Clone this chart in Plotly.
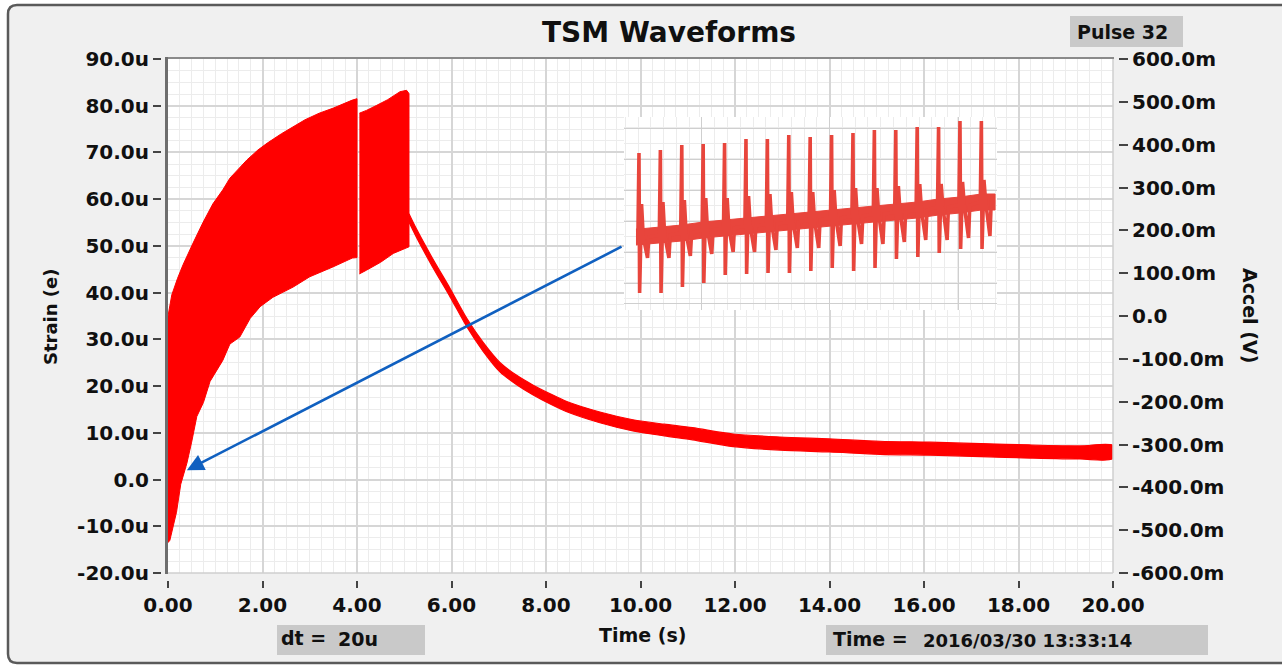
import plotly.graph_objects as go

# ---------------- strain record (time in s, strain in microstrain) ----------------
# first loading block: upper / lower envelope of the fast oscillation
blk1_top_t = [0.0, 0.08, 0.2, 0.32, 0.53, 0.74, 0.95, 1.16, 1.31, 1.5, 1.67, 1.9,
              2.1, 2.4, 2.65, 2.9, 3.2, 3.5, 3.9, 4.0]
blk1_top = [35.0, 39.5, 43.0, 46.0, 50.6, 55.0, 59.0, 62.0, 64.5, 66.5, 68.4, 70.5,
            72.0, 74.0, 75.5, 77.0, 78.4, 79.5, 81.2, 81.5]
blk1_bot_t = [0.0, 0.04, 0.18, 0.27, 0.4, 0.5, 0.61, 0.75, 0.89, 1.0, 1.16, 1.31,
              1.52, 1.74, 1.95, 2.22, 2.65, 3.0, 3.49, 3.9, 4.0]
blk1_bot = [-13.5, -13.0, -7.0, -1.0, 3.5, 8.0, 13.5, 16.5, 21.0, 23.0, 25.5, 29.0,
            30.5, 34.5, 37.0, 39.0, 41.2, 43.4, 45.5, 47.4, 47.5]

# second loading block
blk2_top_t = [4.05, 4.2, 4.42, 4.65, 4.91, 5.05, 5.1]
blk2_top = [78.4, 79.0, 80.1, 81.3, 83.0, 83.3, 82.6]
blk2_bot_t = [4.05, 4.2, 4.5, 4.77, 5.1]
blk2_bot = [44.0, 44.8, 46.5, 48.4, 49.8]

# relaxation after the load is removed: trace centre and half thickness
decay_t = [5.1, 5.26, 5.6, 5.97, 6.33, 6.67, 7.03, 7.38, 7.72, 8.1, 8.44, 9.14,
           9.84, 10.5, 11.1, 11.96, 12.95, 14.0, 15.07, 16.13, 17.2, 18.24, 19.3, 20.0]
decay_mid = [56.0, 52.7, 46.4, 40.0, 33.5, 28.4, 24.0, 21.3, 19.2, 17.2, 15.6, 13.3,
             11.6, 10.6, 9.8, 8.4, 7.7, 7.3, 6.8, 6.6, 6.3, 6.0, 5.8, 5.9]
decay_half = [0.9, 0.9, 0.9, 0.9, 0.9, 0.95, 1.0, 1.0, 1.05, 1.1, 1.1, 1.15,
              1.2, 1.25, 1.3, 1.35, 1.4, 1.4, 1.4, 1.4, 1.4, 1.4, 1.4, 1.4]

# ---------------- accelerometer detail (pulse-by-pulse, arbitrary units) ----------------
pulse_idx = list(range(17))
pulse_peak = [157, 160, 165, 166, 167, 171, 171, 175, 173, 175, 177, 180, 180, 183, 183, 189, 189]
pulse_trough = [17, 17, 23, 27, 35, 36, 37, 37, 39, 42, 39, 42, 51, 53, 57, 61, 61]
pulse_base = [73, 75, 77, 80, 82, 84, 86, 88, 90, 92, 94, 96, 98, 100, 103, 105, 108]
ring_hi = [106, 108, 110, 112, 112, 114, 116, 118, 118, 120, 122, 122, 124, 126, 126, 128, 130]
ring_lo = [52, 52, 54, 56, 58, 58, 60, 62, 62, 64, 66, 66, 68, 70, 70, 72, 74]

# ---------------- axis ticks ----------------
time_ticks = [0, 2, 4, 6, 8, 10, 12, 14, 16, 18, 20]
strain_ticks = [-20, -10, 0, 10, 20, 30, 40, 50, 60, 70, 80, 90]
accel_ticks = [-600, -500, -400, -300, -200, -100, 0, 100, 200, 300, 400, 500, 600]

time_text = [f"{v:.2f}" for v in time_ticks]
strain_text = ["0.0" if v == 0 else f"{v:.1f}u" for v in strain_ticks]
accel_text = ["0.0" if v == 0 else f"{v:.1f}m" for v in accel_ticks]

# ---------------- page geometry helpers ----------------
PAGE_W, PAGE_H = 1282, 666
PL, PR, PT, PB = 161, 1118, 59, 580      # paper box (tick baselines) in page pixels


def xp(px):
    return (px - PL) / (PR - PL)


def yp(py):
    return (PB - py) / (PB - PT)


def rounded_path(x0, y0, x1, y1, r):
    return (f"M{xp(x0 + r)},{yp(y0)} L{xp(x1 - r)},{yp(y0)} "
            f"Q{xp(x1)},{yp(y0)} {xp(x1)},{yp(y0 + r)} L{xp(x1)},{yp(y1 - r)} "
            f"Q{xp(x1)},{yp(y1)} {xp(x1 - r)},{yp(y1)} L{xp(x0 + r)},{yp(y1)} "
            f"Q{xp(x0)},{yp(y1)} {xp(x0)},{yp(y1 - r)} L{xp(x0)},{yp(y0 + r)} "
            f"Q{xp(x0)},{yp(y0)} {xp(x0 + r)},{yp(y0)} Z")


FONT = "DejaVu Sans"
INK = "#101010"
RED = "#ff0000"
INSET_RED = "#e8453c"

fig = go.Figure()

# strain blocks as filled envelopes
fig.add_trace(go.Scatter(
    x=blk1_top_t + blk1_bot_t[::-1], y=blk1_top + blk1_bot[::-1],
    mode="lines", fill="toself", fillcolor=RED, line=dict(color=RED, width=1),
    hoverinfo="skip", showlegend=False))
fig.add_trace(go.Scatter(
    x=blk2_top_t + blk2_bot_t[::-1], y=blk2_top + blk2_bot[::-1],
    mode="lines", fill="toself", fillcolor=RED, line=dict(color=RED, width=1),
    hoverinfo="skip", showlegend=False))
decay_hi = [m + h for m, h in zip(decay_mid, decay_half)]
decay_lo = [m - h for m, h in zip(decay_mid, decay_half)]
fig.add_trace(go.Scatter(
    x=decay_t + decay_t[::-1], y=decay_hi + decay_lo[::-1],
    mode="lines", fill="toself", fillcolor=RED,
    line=dict(color=RED, width=1.2, shape="spline", smoothing=0.8),
    hoverinfo="skip", showlegend=False))

# right-hand acceleration scale
fig.add_trace(go.Scatter(x=[None], y=[None], yaxis="y2", xaxis="x",
                         mode="lines", hoverinfo="skip", showlegend=False))

# inset: accelerometer pulses
band_x = [-0.14] + pulse_idx + [16.64]
band_base = [pulse_base[0]] + pulse_base + [pulse_base[-1]]
band_w = 8
fig.add_trace(go.Scatter(
    x=band_x + band_x[::-1],
    y=[b + band_w for b in band_base] + [b - band_w for b in band_base[::-1]],
    xaxis="x3", yaxis="y3", mode="lines", fill="toself", fillcolor=INSET_RED,
    line=dict(color=INSET_RED, width=1), hoverinfo="skip", showlegend=False))

sx, sy = [-0.14], [pulse_base[0]]
for i, pk, tr, b, rh, rl in zip(pulse_idx, pulse_peak, pulse_trough, pulse_base, ring_hi, ring_lo):
    sx += [i - 0.05, i, i + 0.03, i + 0.12, i + 0.2, i + 0.4, i + 0.46]
    sy += [b, pk, tr, rh, b, rl, b]
sx.append(16.64)
sy.append(pulse_base[-1])
fig.add_trace(go.Scatter(
    x=sx, y=sy, xaxis="x3", yaxis="y3", mode="lines",
    line=dict(color=INSET_RED, width=3.6), hoverinfo="skip", showlegend=False))

tick_font = dict(family=FONT, size=20, color=INK, weight="bold")

fig.update_layout(
    width=PAGE_W, height=PAGE_H,
    margin=dict(l=PL, r=PAGE_W - PR, t=PT, b=PAGE_H - PB, pad=0),
    paper_bgcolor="#f0f0f0", plot_bgcolor="white",
    showlegend=False,
    xaxis=dict(
        domain=[xp(168), xp(1113)], range=[0, 20], anchor="free", position=0,
        tickmode="array", tickvals=time_ticks, ticktext=time_text,
        ticks="outside", ticklen=7, tickwidth=2, tickcolor="#444",
        tickfont=tick_font, showline=False, zeroline=False,
        showgrid=True, gridcolor="#d6d6d6", gridwidth=1.5,
        minor=dict(tickmode="linear", tick0=0, dtick=0.25, showgrid=True,
                   gridcolor="#ececec", gridwidth=1, ticks=""),
        fixedrange=True),
    yaxis=dict(
        domain=[yp(573), 1], range=[-20, 90], anchor="free", position=0, side="left",
        tickmode="array", tickvals=strain_ticks, ticktext=strain_text,
        ticks="outside", ticklen=8, tickwidth=2, tickcolor="#444",
        tickfont=tick_font, showline=False, zeroline=False,
        showgrid=True, gridcolor="#d6d6d6", gridwidth=1.5,
        minor=dict(tickmode="linear", tick0=0, dtick=2.5, showgrid=True,
                   gridcolor="#ececec", gridwidth=1, ticks=""),
        fixedrange=True),
    yaxis2=dict(
        overlaying="y", side="right", anchor="free", position=1, range=[-600, 600],
        tickmode="array", tickvals=accel_ticks, ticktext=accel_text,
        ticks="outside", ticklen=9, tickwidth=2, tickcolor="#444",
        tickfont=tick_font, showline=False, zeroline=False, showgrid=False,
        fixedrange=True),
    xaxis3=dict(
        domain=[xp(624), xp(997)], range=[-0.7, 16.73], anchor="y3",
        tickmode="array", tickvals=[2.94, 8.88, 14.91], showticklabels=False, ticks="",
        showline=False, zeroline=False, showgrid=True, gridcolor="#cfcfcf", gridwidth=1.2,
        minor=dict(tickmode="linear", tick0=2.94, dtick=0.597, showgrid=True,
                   gridcolor="#ececec", gridwidth=1, ticks=""),
        fixedrange=True),
    yaxis3=dict(
        domain=[yp(310), yp(117)], range=[0, 193], anchor="x3",
        tickmode="array", tickvals=[7, 27, 58, 89, 120, 151, 182], showticklabels=False,
        ticks="", showline=False, zeroline=False, showgrid=True, gridcolor="#cfcfcf",
        gridwidth=1.2,
        minor=dict(tickmode="linear", tick0=12, dtick=15.5, showgrid=True,
                   gridcolor="#ececec", gridwidth=1, ticks=""),
        fixedrange=True),
)

shapes = []
# white page outside the rounded panel
canvas = (f"M{xp(0)},{yp(0)} L{xp(PAGE_W)},{yp(0)} L{xp(PAGE_W)},{yp(PAGE_H)} "
          f"L{xp(0)},{yp(PAGE_H)} Z ")
shapes.append(dict(type="path", xref="paper", yref="paper", layer="below",
                   path=canvas + rounded_path(8, 5, 1300, 663, 9), fillrule="evenodd",
                   fillcolor="white", line=dict(width=0)))
shapes.append(dict(type="path", xref="paper", yref="paper", layer="below",
                   path=rounded_path(8, 5, 1300, 663, 9),
                   line=dict(color="#5a5a5a", width=2.5)))
# indicator boxes
for x0, y0, x1, y1 in [(1070, 16, 1183, 47), (277, 625, 425, 655), (826, 625, 1208, 655)]:
    shapes.append(dict(type="rect", xref="paper", yref="paper", layer="below",
                       x0=xp(x0), x1=xp(x1), y0=yp(y1), y1=yp(y0),
                       fillcolor="#c9c9c9", line=dict(width=0)))
# plot frame
shapes.append(dict(type="line", xref="paper", yref="paper", layer="above",
                   x0=xp(1113), x1=xp(1113), y0=yp(573), y1=yp(58),
                   line=dict(color="#cfcfcf", width=1.5)))
shapes.append(dict(type="line", xref="paper", yref="paper", layer="above",
                   x0=xp(168), x1=xp(1113), y0=yp(573), y1=yp(573),
                   line=dict(color="#cfcfcf", width=1.5)))
shapes.append(dict(type="line", xref="paper", yref="paper", layer="above",
                   x0=xp(166), x1=xp(1114), y0=yp(58), y1=yp(58),
                   line=dict(color="#8a8a8a", width=2)))
shapes.append(dict(type="line", xref="paper", yref="paper", layer="above",
                   x0=xp(166.5), x1=xp(166.5), y0=yp(574), y1=yp(57),
                   line=dict(color="#6e6e6e", width=3)))
fig.update_layout(shapes=shapes)


def label(text, x, y, size=19, angle=0, xanchor="center"):
    return dict(text=text, xref="paper", yref="paper", x=xp(x), y=yp(y),
                xanchor=xanchor, yanchor="middle", showarrow=False, textangle=angle,
                font=dict(family=FONT, size=size, color=INK, weight="bold"))


annotations = [
    label("TSM Waveforms", 669, 33, size=28),
    label("Time (s)", 642, 635),
    label("Strain (e)", 50, 317, size=18, angle=-90),
    label("Accel (V)", 1250, 315, size=19, angle=90),
    label("Pulse 32", 1075, 32, size=19, xanchor="left"),
    label("dt =", 279, 638, size=19, xanchor="left"),
    label("20u", 336, 639, size=19, xanchor="left"),
    label("Time =", 831, 639, size=19, xanchor="left"),
    label("2016/03/30 13:33:14", 921, 640, size=18, xanchor="left"),
    dict(text="", xref="x", yref="y", axref="x", ayref="y",
         x=0.40, y=2.0, ax=9.63, ay=50.0, showarrow=True,
         arrowhead=2, arrowsize=1.3, arrowwidth=2.6, arrowcolor="#1060c0",
         standoff=0, startstandoff=0),
]
fig.update_layout(annotations=annotations)

fig.write_html("out.html")
